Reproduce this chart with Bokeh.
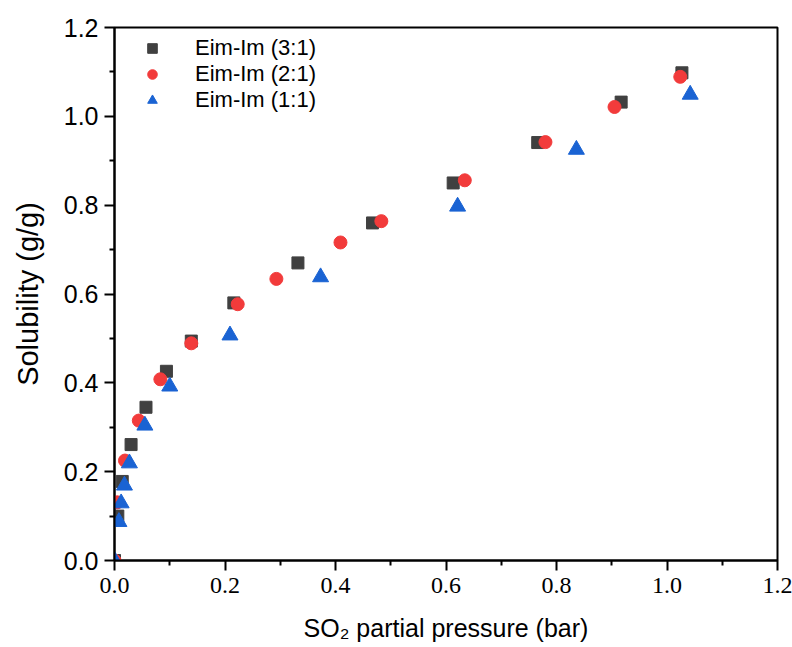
from bokeh.plotting import figure
from bokeh.models import Range1d, FixedTicker, PrintfTickFormatter, Legend, LegendItem
from bokeh.embed import file_html
from bokeh.resources import INLINE

# Eim-Im (3:1)
x_31 = [0.000, 0.006, 0.014, 0.030, 0.057, 0.094, 0.139, 0.216, 0.332, 0.467, 0.613, 0.766, 0.917, 1.027]
y_31 = [0.000, 0.100, 0.178, 0.261, 0.345, 0.426, 0.494, 0.580, 0.670, 0.760, 0.850, 0.941, 1.032, 1.098]
# Eim-Im (2:1)
x_21 = [0.000, 0.005, 0.019, 0.044, 0.083, 0.139, 0.223, 0.293, 0.409, 0.483, 0.634, 0.780, 0.905, 1.024]
y_21 = [0.000, 0.131, 0.225, 0.315, 0.408, 0.489, 0.577, 0.634, 0.716, 0.764, 0.856, 0.942, 1.021, 1.089]
# Eim-Im (1:1)
x_11 = [0.000, 0.008, 0.012, 0.018, 0.027, 0.055, 0.100, 0.209, 0.373, 0.621, 0.836, 1.042]
y_11 = [0.000, 0.087, 0.129, 0.169, 0.219, 0.304, 0.392, 0.507, 0.638, 0.797, 0.925, 1.049]

labels = ["Eim-Im (3:1)", "Eim-Im (2:1)", "Eim-Im (1:1)"]
x_title = "SO\u2082 partial pressure (bar)"
y_title = "Solubility (g/g)"
major_ticks = [0.0, 0.2, 0.4, 0.6, 0.8, 1.0, 1.2]
minor_ticks = [0.1, 0.3, 0.5, 0.7, 0.9, 1.1]

SANS = "Liberation Sans"
SERIF = "Liberation Serif"

p = figure(width=792, height=647, output_backend="svg", toolbar_location=None,
           x_range=Range1d(0, 1.2), y_range=Range1d(0, 1.2),
           min_border_left=114, min_border_right=15, min_border_top=27, min_border_bottom=87)
p.background_fill_color = "white"
p.border_fill_color = "white"
p.xgrid.visible = False
p.ygrid.visible = False
p.outline_line_color = "black"
p.outline_line_width = 2

r31 = p.scatter(x_31, y_31, marker="square", size=12, color="#404040")
r21 = p.scatter(x_21, y_21, marker="circle", size=13, color="#f23b3b")
r11 = p.scatter(x_11, y_11, marker="triangle", size=16, color="#1a63d3")

for ax in (p.xaxis[0], p.yaxis[0]):
    ax.ticker = FixedTicker(ticks=major_ticks, minor_ticks=minor_ticks)
    ax.formatter = PrintfTickFormatter(format="%.1f")
    ax.axis_line_width = 2
    ax.axis_line_color = "black"
    ax.major_tick_line_width = 2
    ax.minor_tick_line_width = 2
    ax.major_tick_out = 10
    ax.major_tick_in = 0
    ax.minor_tick_out = 5
    ax.minor_tick_in = 0
    ax.major_label_text_color = "black"
    ax.axis_label_text_color = "black"
    ax.axis_label_text_font_style = "normal"

p.xaxis.axis_label = x_title
p.xaxis.axis_label_text_font = SANS
p.xaxis.axis_label_text_font_size = "25px"
p.xaxis.major_label_text_font = SERIF
p.xaxis.major_label_text_font_size = "24px"
p.xaxis.major_label_standoff = 7
p.xaxis.axis_label_standoff = 18

p.yaxis.axis_label = y_title
p.yaxis.axis_label_text_font = SANS
p.yaxis.axis_label_text_font_size = "29px"
p.yaxis.major_label_text_font = SANS
p.yaxis.major_label_text_font_size = "25px"
p.yaxis.major_label_standoff = 6
p.yaxis.axis_label_standoff = 17

legend = Legend(items=[LegendItem(label=labels[0], renderers=[r31]),
                       LegendItem(label=labels[1], renderers=[r21]),
                       LegendItem(label=labels[2], renderers=[r11])],
                location="top_left")
legend.margin = 8
legend.padding = 0
legend.border_line_color = None
legend.background_fill_alpha = 0
legend.glyph_width = 60
legend.glyph_height = 24
legend.label_height = 24
legend.spacing = 0
legend.label_standoff = 13
legend.label_text_font = SANS
legend.label_text_font_size = "22px"
legend.label_text_color = "black"
p.add_layout(legend)

open("out.html", "w").write(file_html(p, INLINE))
